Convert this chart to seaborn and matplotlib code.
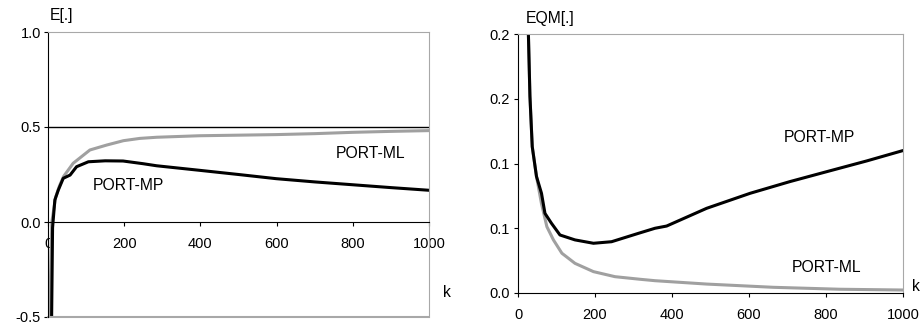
import matplotlib
matplotlib.use("Agg")
import matplotlib.pyplot as plt
import seaborn as sns

# left panel: E[.]
k_mp_e = [9, 12, 18, 27, 40, 58, 75, 106, 150, 197, 249, 285, 398, 500, 599, 700, 800, 900, 1000]
e_mp = [-0.6, -0.03, 0.116, 0.168, 0.23, 0.247, 0.291, 0.317, 0.322, 0.321, 0.307, 0.296, 0.272,
        0.25, 0.228, 0.211, 0.196, 0.181, 0.167]
k_ml_e = [3, 10, 20, 30, 41, 66, 110, 154, 198, 241, 285, 398, 500, 599, 700, 800, 900, 1000]
e_ml = [-0.6, 0.0, 0.13, 0.19, 0.24, 0.309, 0.379, 0.405, 0.428, 0.44, 0.446, 0.454, 0.457,
        0.46, 0.465, 0.472, 0.477, 0.481]

# right panel: EQM[.]
k_mp_q = [24, 27, 31, 37, 48, 61, 70, 87, 109, 148, 196, 243, 312, 356, 386, 490, 603, 706, 802, 906, 1000]
q_mp = [0.23, 0.2, 0.152, 0.113, 0.09, 0.077, 0.0615, 0.0538, 0.0448, 0.041, 0.0384, 0.0396, 0.046,
        0.050, 0.0517, 0.0654, 0.077, 0.086, 0.0937, 0.102, 0.110]
k_ml_q = [24, 27, 31, 37, 48, 61, 75, 92, 114, 148, 196, 252, 317, 356, 490, 663, 836, 1000]
q_ml = [0.23, 0.2, 0.152, 0.113, 0.09, 0.069, 0.0512, 0.041, 0.0307, 0.0229, 0.0165, 0.0126, 0.0106,
        0.0095, 0.0069, 0.0044, 0.0029, 0.0023]

x_ticks = [0, 200, 400, 600, 800, 1000]
e_ticks = [-0.5, 0.0, 0.5, 1.0]
q_ticks = [0.0, 0.05, 0.1, 0.15, 0.2]
q_tick_labels = ["0.0", "0.1", "0.1", "0.2", "0.2"]

sns.set_style("white")
plt.rcParams['font.family'] = ['Liberation Sans', 'DejaVu Sans']
plt.rcParams['text.color'] = 'black'
plt.rcParams['xtick.color'] = 'black'
plt.rcParams['ytick.color'] = 'black'

fig = plt.figure(figsize=(9.22, 3.31), dpi=100)
ax1 = fig.add_axes([48/922, 1-317/331, 381/922, 285/331])
ax2 = fig.add_axes([518/922, 1-293/331, 385/922, 259/331])

GRAY = "#a0a0a0"
FRAME = "#a8a8a8"
TS = 10.5
LS = 11.3

# ---- left
sns.lineplot(x=k_ml_e, y=e_ml, ax=ax1, color=GRAY, lw=2.2, sort=False)
sns.lineplot(x=k_mp_e, y=e_mp, ax=ax1, color="black", lw=2.2, sort=False)
ax1.axhline(0.5, color="black", lw=1.0)
ax1.set_xlim(0, 1000)
ax1.set_ylim(-0.5, 1.0)
ax1.set_yticks(e_ticks)
ax1.set_yticklabels(["-0.5", "0.0", "0.5", "1.0"])
ax1.set_xticks(x_ticks)
ax1.spines['bottom'].set_position(('data', 0))
ax1.spines['bottom'].set_color("black")
ax1.spines['left'].set_color("black")
ax1.spines['top'].set_color(FRAME)
ax1.spines['right'].set_color(FRAME)
ax1.axhline(-0.5, color=FRAME, lw=1.5, clip_on=False)
ax1.tick_params(axis='both', labelsize=TS, length=3, width=0.8, direction='out', bottom=True, left=True, pad=2)
ax1.tick_params(axis='x', pad=8)
ax1.text(0.005, 1.03, "E[.]", transform=ax1.transAxes, fontsize=LS, ha='left', va='bottom')
ax1.text(1.037, 0.085, "k", transform=ax1.transAxes, fontsize=LS, ha='left', va='center')
ax1.text(755, 0.358, "PORT-ML", fontsize=LS, ha='left', va='center')
ax1.text(118, 0.19, "PORT-MP", fontsize=LS, ha='left', va='center')

# ---- right
sns.lineplot(x=k_ml_q, y=q_ml, ax=ax2, color=GRAY, lw=2.2, sort=False)
sns.lineplot(x=k_mp_q, y=q_mp, ax=ax2, color="black", lw=2.2, sort=False)
ax2.set_xlim(0, 1000)
ax2.set_ylim(0, 0.2)
ax2.set_yticks(q_ticks)
ax2.set_yticklabels(q_tick_labels)
ax2.set_xticks(x_ticks)
ax2.spines['bottom'].set_color("black")
ax2.spines['left'].set_color("black")
ax2.spines['top'].set_color(FRAME)
ax2.spines['right'].set_color(FRAME)
ax2.tick_params(axis='both', labelsize=TS, length=3, width=0.8, direction='out', bottom=True, left=True, pad=3)
ax2.tick_params(axis='x', pad=8)
ax2.text(0.02, 1.03, "EQM[.]", transform=ax2.transAxes, fontsize=LS, ha='left', va='bottom')
ax2.text(1.024, 0.025, "k", transform=ax2.transAxes, fontsize=LS, ha='left', va='center')
ax2.text(690, 0.120, "PORT-MP", fontsize=LS, ha='left', va='center')
ax2.text(710, 0.020, "PORT-ML", fontsize=LS, ha='left', va='center')

fig.savefig("out.png", dpi=100)
